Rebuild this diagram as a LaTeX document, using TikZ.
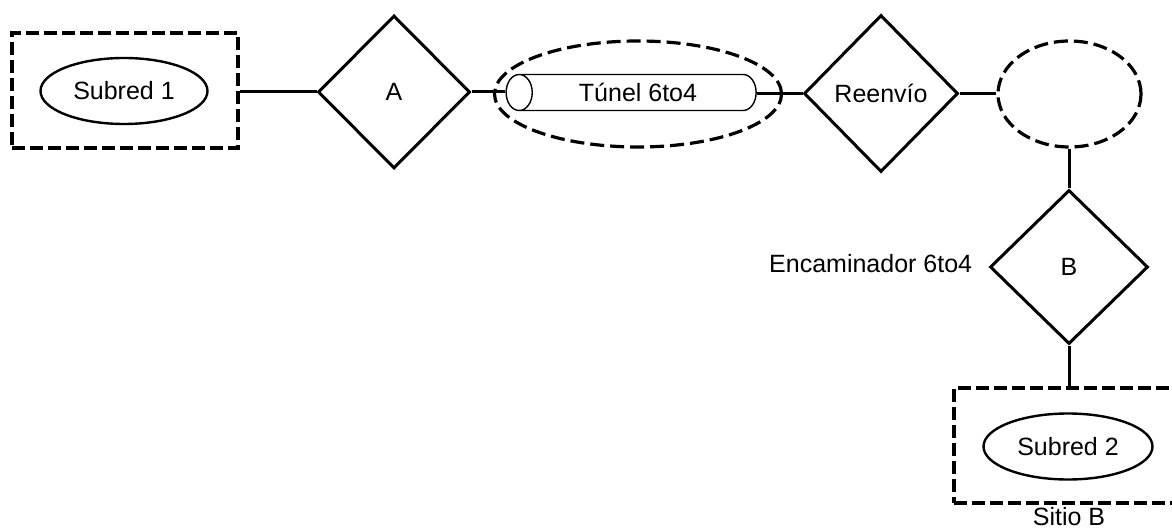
\documentclass[tikz,border=0pt]{standalone}
\usepackage{fontspec}
\setmainfont{Liberation Sans}
\usetikzlibrary{shapes.geometric}
\tikzset{
  lbl/.style={font=\fontsize{12.5}{15}\selectfont},
  dbox/.style={draw, line width=1.6pt, dash pattern=on 6.5pt off 2.5pt, minimum width=#1, inner sep=0pt},
  subnet/.style={draw, ellipse, line width=1.2pt, inner sep=0pt, minimum width=83.5pt, minimum height=33pt, lbl},
  router/.style={draw, diamond, line width=1.5pt, inner sep=0pt, lbl},
  dell/.style={draw, ellipse, line width=1.6pt, dash pattern=on 7pt off 3pt, inner sep=0pt},
  conn/.style={line width=1.5pt},
}
\begin{document}
\begin{tikzpicture}[x=0.5pt, y=-0.5pt]
\useasboundingbox (0,0) rectangle (1172,529);
% left site
\node[dbox=113pt, minimum height=57.5pt] (box1) at (125,90.5) {};
\node[subnet] (sub1) at (124,91) {Subred 1};
% router A
\node[router, minimum width=76pt, minimum height=76.5pt] (A) at (394,92) {A};
% tunnel
\node[dell, minimum width=143.5pt, minimum height=53pt] (tune) at (638,94) {};
\node[draw, cylinder, shape border rotate=180, aspect=1.4, line width=0.7pt,
      minimum height=125pt, minimum width=18pt, inner sep=0pt, lbl] (tun) at (638,92.5) {Túnel 6to4};
% relay
\node[router, minimum width=77pt, minimum height=78.5pt] (R) at (881,93.5) {Reenvío};
\node[dell, minimum width=71.5pt, minimum height=53pt] (E3) at (1069.5,94) {};
% router B
\node[router, minimum width=79pt, minimum height=77pt] (B) at (1069,267) {B};
\node[lbl, anchor=mid east, inner sep=0pt] (encB) at ([xshift=-8pt]B.west) {Encaminador 6to4};
% site B
\node[dbox=115pt, minimum height=57.5pt] (box2) at (1069,445.5) {};
\node[subnet, minimum width=84.5pt] (sub2) at (1068,446.5) {Subred 2};
\node[lbl, anchor=base, inner sep=0pt] (sitioB) at (1069,525) {Sitio B};
% connectors
\draw[conn] (A.west) -- (A.west -| box1.east);
\draw[conn] (A.east) -- (A.east -| tun.west);
\draw[conn] (R.west) -- (R.west -| tun.east);
\draw[conn] (R.east) -- (R.east -| E3.west);
\draw[conn] (B.north) -- (B.north |- E3.south);
\draw[conn] (B.south) -- (B.south |- box2.north);
\end{tikzpicture}
\end{document}
